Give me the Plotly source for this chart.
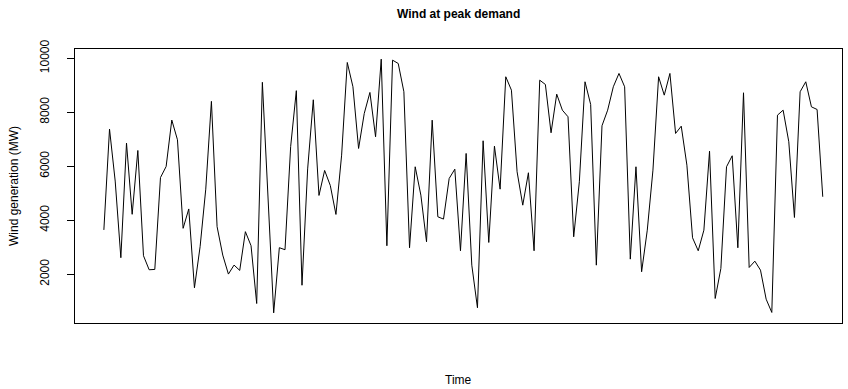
import plotly.graph_objects as go

title_text = "Wind at peak demand"
x_label = "Time"
y_label = "Wind generation (MW)"

wind_mw = [
    3640, 7375, 5450, 2610, 6856, 4218, 6583, 2683, 2164, 2176,
    5580, 5989, 7710, 6979, 3699, 4417, 1495, 3018, 5150, 8403,
    3760, 2708, 2003, 2337, 2139, 3575, 3055, 913, 9109, 4700,
    567, 2981, 2906, 6732, 8799, 1590, 5900, 8462, 4917, 5843,
    5287, 4213, 6410, 9844, 8944, 6658, 7955, 8733, 7091, 9967,
    3053, 9930, 9807, 8758, 2978, 5979, 4928, 3201, 7706, 4127,
    4041, 5546, 5891, 2868, 6473, 2334, 756, 6943, 3175, 6743,
    5150, 9314, 8818, 5795, 4557, 5758, 2868, 9188, 9029, 7239,
    8670, 8077, 7832, 3386, 5424, 9129, 8288, 2334, 7499, 8077,
    8944, 9437, 8944, 2557, 5979, 2090, 3631, 5855, 9314, 8633,
    9437, 7214, 7484, 6039, 3349, 2868, 3631, 6558, 1100, 2212,
    5979, 6387, 2978, 8721, 2249, 2482, 2150, 1074, 582, 7892,
    8077, 6906, 4101, 8758, 9129, 8200, 8102, 4868,
]
time_index = list(range(1, len(wind_mw) + 1))
y_ticks = [2000, 4000, 6000, 8000, 10000]

ymin, ymax = min(wind_mw), max(wind_mw)
ypad = 0.04 * (ymax - ymin)

FONT = "Liberation Sans, Arial, sans-serif"

fig = go.Figure(go.Scatter(
    x=time_index, y=wind_mw, mode="lines",
    line=dict(color="black", width=1), hoverinfo="skip",
))

fig.update_layout(
    width=848, height=389,
    margin=dict(l=75, r=6, t=49, b=66),
    paper_bgcolor="white", plot_bgcolor="white",
    showlegend=False,
    font=dict(family=FONT, size=12, color="black"),
    xaxis=dict(
        range=[-4.1, 131.4], showgrid=False, zeroline=False,
        showticklabels=False, ticks="",
        showline=True, mirror=True, linecolor="black", linewidth=1,
    ),
    yaxis=dict(
        range=[ymin - ypad, ymax + ypad], showgrid=False, zeroline=False,
        tickmode="array", tickvals=y_ticks, ticktext=[str(v) for v in y_ticks],
        ticks="outside", ticklen=7, tickcolor="black", tickwidth=1,
        tickangle=-90, tickfont=dict(size=12, family=FONT),
        ticklabelstandoff=13,
        showline=True, mirror=True, linecolor="black", linewidth=1,
    ),
    annotations=[
        dict(text="<b>" + title_text + "</b>", xref="paper", yref="paper",
             x=0.5, y=1, yshift=35, showarrow=False, xanchor="center",
             yanchor="middle", font=dict(size=12, family=FONT)),
        dict(text=x_label, xref="paper", yref="paper", x=0.5, y=0,
             yshift=-57, showarrow=False, xanchor="center", yanchor="middle",
             font=dict(size=12, family=FONT)),
        dict(text=y_label, xref="paper", yref="paper", x=0, y=0.5,
             xshift=-61, showarrow=False, textangle=-90, xanchor="center",
             yanchor="middle", font=dict(size=12, family=FONT)),
    ],
)

fig.write_html("out.html", config={"displayModeBar": False},
               post_script="document.body.style.margin='0';")
